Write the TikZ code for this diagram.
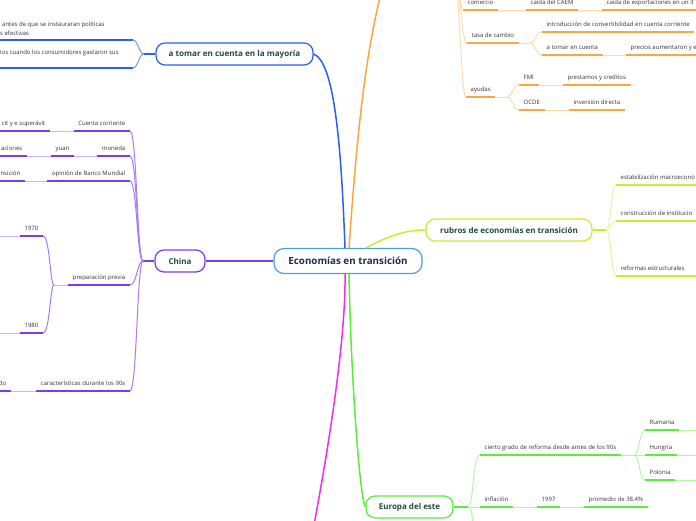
\documentclass[tikz,border=0pt]{standalone}
\usepackage{fontspec}
\setmainfont{Open Sans}
\definecolor{txt}{HTML}{333333}
\definecolor{ttlc}{HTML}{1E4D3E}
\definecolor{ctr}{HTML}{1F2D4F}
\definecolor{cbl}{HTML}{4A9FE0}
\definecolor{bl}{HTML}{2A5FF0}
\definecolor{bll}{HTML}{6F95F5}
\definecolor{pu}{HTML}{7A3CF2}
\definecolor{pum}{HTML}{A57BF7}
\definecolor{pul}{HTML}{CDB5FA}
\definecolor{orc}{HTML}{F9A73E}
\definecolor{orl}{HTML}{FCDCAE}
\definecolor{yg}{HTML}{C6EE2E}
\definecolor{ygl}{HTML}{E2F79A}
\definecolor{gr}{HTML}{58EE3A}
\definecolor{grl}{HTML}{B5F6A5}
\definecolor{mg}{HTML}{F02CF0}
\begin{document}
\begin{tikzpicture}[x=1pt,y=-1pt,
  lab/.style={inner xsep=4.5pt, inner ysep=0pt, text height=4.4pt, text depth=5pt, font=\fontsize{6}{7.2}\selectfont, text=txt},
  plain/.style={inner sep=0pt, font=\fontsize{6}{7.2}\selectfont, text=txt},
  ttl/.style={draw=#1, line width=1.2pt, rounded corners=9pt, fill=white, font=\bfseries\fontsize{8}{9}\selectfont, text=ttlc, minimum height=22pt, inner xsep=0pt},
  ul/.style={draw=#1, line width=1.4pt},
  cn/.style={draw=#1, line width=1pt},
  br/.style={draw=#1, line width=1.5pt},
]
\useasboundingbox (0,0) rectangle (696,520);
\coordinate (xl) at (-3,0);
\coordinate (xr) at (699,0);

% ---------- main nodes ----------
\node[draw=cbl, line width=1.2pt, rounded corners=10pt, fill=white, font=\bfseries\fontsize{9.8}{11}\selectfont, text=ctr, minimum width=148pt, minimum height=25pt, inner xsep=0pt] (central) at (348,261) {Economías en transición};
\node[ttl=bl, minimum width=157pt, font=\bfseries\fontsize{8.1}{9}\selectfont] (blue) at (234.5,54) {a tomar en cuenta en la mayoría};
\node[ttl=pu, minimum width=50pt] (china) at (180,261) {China};
\node[ttl=yg, minimum width=166pt] (rub) at (509,230) {rubros de economías en transición};
\node[ttl=gr, minimum width=87pt] (eu) at (409.5,507) {Europa del este};

% ---------- main branches ----------
\coordinate (otop) at (386,-25);
\coordinate (mbot) at (313,530);
\draw[br=bl] ([xshift=-3pt]central.north) .. controls (341,140) and (334,62) .. (blue.east);
\draw[br=orc] ([xshift=1pt]central.north) .. controls (356,150) and (364,50) .. (otop);
\draw[br=pu] (central.west) -- (china.east);
\draw[br=yg] ([xshift=18pt]central.north) .. controls (388,236) and (405,230) .. (rub.west);
\draw[br=mg] ([xshift=-3pt]central.south) .. controls (346,330) and (332,430) .. (mbot);
\draw[br=gr] ([xshift=1pt]central.south) .. controls (351,380) and (360,500) .. (eu.west);

% ---------- blue branch ----------
\node[plain, anchor=base west] (bt1) at (2,26) {antes de que se instauraran políticas};
\node[plain, anchor=base west] (bt2) at (0,35) {s efectivas};
\node[plain, anchor=base west] (bt3) at (0,54) {ios cuando los consumidores gastaron sus};
\coordinate (bu1) at (133,40);
\coordinate (bu2) at (133,68);
\coordinate (hubB) at (144,54);
\draw[ul=bl] (bu1) -- (bu1 -| xl);
\draw[ul=bl] (bu2) -- (bu2 -| xl);
\draw[br=bl] (blue.west) -- (hubB);
\draw[cn=bll] (hubB) .. controls (139,54) and (138,40) .. (bu1);
\draw[cn=bll] (hubB) .. controls (139,54) and (138,68) .. (bu2);

% ---------- China branch ----------
\coordinate (hubC) at (143,261);
\coordinate (xc) at (137,0);
\draw[br=pu] (china.west) -- (hubC);
% row 1
\node[lab, anchor=south east] (p1a) at (50,131) {cit y e superávit};
\node[lab, anchor=south east] (p1b) at (130,131) {Cuenta corriente};
\draw[ul=pu] (p1a.south east) -- (p1a.south east -| xl);
\draw[cn=pul] (p1a.south east) -- (p1b.south west);
\draw[ul=pu] (p1b.south west) -- (p1b.south east);
% row 2
\node[lab, anchor=south east] (p2a) at (27,156) {aciones};
\node[lab, anchor=south west] (p2b) at (51,156) {yuan};
\node[lab, anchor=south east] (p2c) at (130,156) {moneda};
\draw[ul=pu] (p2a.south east) -- (p2a.south east -| xl);
\draw[cn=pul] (p2a.south east) -- (p2b.south west);
\draw[ul=pu] (p2b.south west) -- (p2b.south east);
\draw[cn=pul] (p2b.south east) -- (p2c.south west);
\draw[ul=pu] (p2c.south west) -- (p2c.south east);
% row 3
\node[lab, anchor=south east] (p3a) at (25,181) {nsición};
\node[lab, anchor=south east] (p3b) at (130,181) {opinión de Banco Mundial};
\draw[ul=pu] (p3a.south east) -- (p3a.south east -| xl);
\draw[cn=pul] (p3a.south east) -- (p3b.south west);
\draw[ul=pu] (p3b.south west) -- (p3b.south east);
% row 4
\node[lab, anchor=south east] (p4) at (130,285) {preparación previa};
\node[lab, anchor=south east] (p41) at (43,236) {1970};
\node[lab, anchor=south east] (p42) at (43,333) {1980};
\coordinate (hubP) at (54,285);
\draw[ul=pu] (p4.south west) -- (p4.south east);
\draw[cn=pul] (p4.south west) -- (hubP);
\draw[ul=pu] (p41.south west) -- (p41.south east);
\draw[ul=pu] (p42.south west) -- (p42.south east);
\draw[cn=pul] (p41.south west) -- (p41.south west -| xl);
\draw[cn=pul] (p42.south west) -- (p42.south west -| xl);
\draw[cn=pum] (hubP) .. controls (50,285) and (50,236) .. (p41.south east);
\draw[cn=pum] (hubP) .. controls (50,285) and (50,333) .. (p42.south east);
% row 5
\node[lab, anchor=south east] (p5) at (130,391) {características durante los 90s};
\node[lab, anchor=south east] (p5a) at (11,391) {do};
\draw[ul=pu] (p5.south west) -- (p5.south east);
\draw[cn=pul] (p5a.south east) -- (p5.south west);
\draw[ul=pu] (p5a.south east) -- (p5a.south east -| xl);
% hub connectors
\foreach \n in {p1b,p2c,p3b,p4,p5}
  \draw[cn=pum] (hubC) .. controls (137,261) and (\n.south east -| xc) .. (\n.south east);

% ---------- orange branch ----------
\coordinate (hubO) at (450,-45);
\node[lab, anchor=south west] (o1) at (463,10) {comercio};
\node[lab, anchor=south west] (o1b) at (526,10) {caída del CAEM};
\node[lab, anchor=south west] (o1c) at (602,10) {caída de exportaciones en un 3};
\draw[ul=orc] (o1.south west) -- (o1.south east);
\draw[cn=orl] (o1.south east) -- (o1b.south west);
\draw[ul=orc] (o1b.south west) -- (o1b.south east);
\draw[cn=orl] (o1b.south east) -- (o1c.south west);
\draw[ul=orc] (o1c.south west) -- (o1c.south west -| xr);
\node[lab, anchor=south west] (o2) at (467,43) {tasa de cambio};
\coordinate (hubT) at (530,43);
\node[lab, anchor=south west] (o21) at (542,32) {introducción de convertibilidad en cuenta corriente};
\node[lab, anchor=south west] (o22) at (542,55) {a tomar en cuenta};
\node[lab, anchor=south west] (o22b) at (626,55) {precios aumentaron y e};
\draw[ul=orc] (o2.south west) -- (o2.south east);
\draw[cn=orl] (o2.south east) -- (hubT);
\draw[cn=orl] (hubT) .. controls (536,43) and (535,32) .. (o21.south west);
\draw[cn=orl] (hubT) .. controls (536,43) and (535,55) .. (o22.south west);
\draw[ul=orc] (o21.south west) -- (o21.south east);
\draw[ul=orc] (o22.south west) -- (o22.south east);
\draw[cn=orl] (o22.south east) -- (o22b.south west);
\draw[ul=orc] (o22b.south west) -- (o22b.south west -| xr);
\node[lab, anchor=south west] (o3) at (466,97) {ayudas};
\coordinate (hubA) at (507,97);
\node[lab, anchor=south west] (o31) at (519,85) {FMI};
\node[lab, anchor=south west] (o31b) at (563,85) {prestamos y creditos};
\node[lab, anchor=south west] (o32) at (519,110) {OCDE};
\node[lab, anchor=south west] (o32b) at (569,110) {inversión directa};
\draw[ul=orc] (o3.south west) -- (o3.south east);
\draw[cn=orl] (o3.south east) -- (hubA);
\draw[cn=orl] (hubA) .. controls (513,97) and (512,85) .. (o31.south west);
\draw[cn=orl] (hubA) .. controls (513,97) and (512,110) .. (o32.south west);
\draw[ul=orc] (o31.south west) -- (o31.south east);
\draw[cn=orl] (o31.south east) -- (o31b.south west);
\draw[ul=orc] (o31b.south west) -- (o31b.south east);
\draw[ul=orc] (o32.south west) -- (o32.south east);
\draw[cn=orl] (o32.south east) -- (o32b.south west);
\draw[ul=orc] (o32b.south west) -- (o32b.south east);
\draw[cn=orl] (hubO) .. controls (460,-45) and (459,10) .. (o1.south west);
\draw[cn=orl] (hubO) .. controls (460,-45) and (460,43) .. (o2.south west);
\draw[cn=orl] (hubO) .. controls (460,-45) and (460,97) .. (o3.south west);

% ---------- yellow-green branch ----------
\coordinate (hubY) at (606,230);
\coordinate (xy) at (611,0);
\node[lab, anchor=south west] (y1) at (616,185) {estabilización macroeconó};
\node[lab, anchor=south west] (y2) at (616,221) {construcción de institucio};
\node[lab, anchor=south west] (y3) at (616,276) {reformas estructurales};
\draw[br=yg] (rub.east) -- (hubY);
\foreach \n in {y1,y2,y3}{
  \draw[cn=ygl] (hubY) .. controls (611,230) and (\n.south west -| xy) .. (\n.south west);
  \draw[ul=yg] (\n.south west) -- (\n.south west -| xr);
}

% ---------- green branch ----------
\coordinate (hubE) at (468,507);
\coordinate (ebot) at (473,528);
\draw[br=gr] (eu.east) -- (hubE);
\node[lab, anchor=south west] (g1) at (480,455) {cierto grado de reforma desde antes de los 90s};
\node[lab, anchor=south west] (g2) at (480,507) {inflación};
\node[lab, anchor=south west] (g2b) at (537,507) {1997};
\node[lab, anchor=south west] (g2c) at (584,507) {promedio de 38.4\%};
\draw[cn=grl] (hubE) .. controls (474,507) and (472,455) .. (g1.south west);
\draw[cn=grl] (hubE) -- (g2.south west);
\draw[cn=grl] (hubE) .. controls (472,507) and (472,515) .. (ebot);
\draw[ul=gr] (g1.south west) -- (g1.south east);
\draw[ul=gr] (g2.south west) -- (g2.south east);
\draw[cn=grl] (g2.south east) -- (g2b.south west);
\draw[ul=gr] (g2b.south west) -- (g2b.south east);
\draw[cn=grl] (g2b.south east) -- (g2c.south west);
\draw[ul=gr] (g2c.south west) -- (g2c.south east);
\coordinate (hubG) at (634,455);
\coordinate (xg) at (639,0);
\draw[cn=grl] (g1.south east) -- (hubG);
\node[lab, anchor=south west] (g11) at (645,430) {Rumania};
\node[lab, anchor=south west] (g12) at (645,455) {Hungría};
\node[lab, anchor=south west] (g13) at (645,480) {Polonia};
\foreach \n in {g11,g12,g13}{
  \draw[cn=grl] (hubG) .. controls (640,455) and (\n.south west -| xg) .. (\n.south west);
  \draw[ul=gr] (\n.south west) -- (\n.south east);
  \draw[cn=grl] (\n.south east) -- (\n.south east -| xr);
}
\end{tikzpicture}
\end{document}
